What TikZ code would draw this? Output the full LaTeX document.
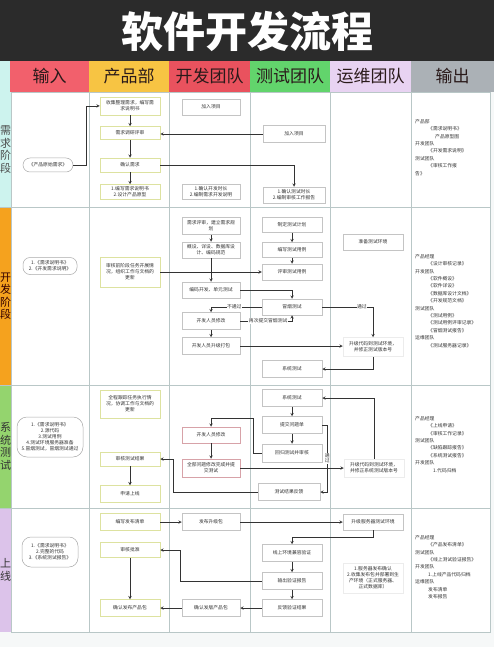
\documentclass[tikz,border=0pt]{standalone}
\usepackage{fontspec}
\setmainfont{Noto Sans CJK SC}
\usetikzlibrary{arrows,calc}

\definecolor{titlebg}{HTML}{2B2B2B}
\definecolor{pagebg}{HTML}{F6F8F8}
\definecolor{hIn}{HTML}{F2606C}
\definecolor{hProd}{HTML}{F7C443}
\definecolor{hDev}{HTML}{E9525E}
\definecolor{hTest}{HTML}{62D46C}
\definecolor{hOps}{HTML}{E8D3F2}
\definecolor{hOut}{HTML}{ABB1B6}
\definecolor{stripcyan}{HTML}{CDF3EE}
\definecolor{striporange}{HTML}{F5A21E}
\definecolor{stripgreen}{HTML}{94D46E}
\definecolor{striplav}{HTML}{DCC3EA}
\definecolor{gridline}{HTML}{B9C7C7}
\definecolor{boxgray}{HTML}{C4C4C4}
\definecolor{ingray}{HTML}{AAAAAA}
\definecolor{prodline}{HTML}{DDE2A0}
\definecolor{pinkline}{HTML}{D7A2A8}
\definecolor{boxtext}{HTML}{333333}
\definecolor{headtext}{HTML}{2A1A1A}
\definecolor{linedark}{HTML}{333333}

\begin{document}
\begin{tikzpicture}[x=1pt, y=-1pt,
	box/.style={rectangle, draw=boxgray, fill=white, line width=0.5pt, minimum width=58, minimum height=16, inner sep=1pt, align=center, text=boxtext, font=\fontsize{4.8}{6}\selectfont},
	pbox/.style={box, draw=prodline, minimum width=60},
	dbox/.style={box, draw=pinkline},
	inbox/.style={box, rounded corners=7pt, draw=ingray},
	head/.style={rectangle, minimum height=31, inner sep=0pt, font=\fontsize{17}{17}\selectfont, text=headtext},
	strip/.style={rectangle, minimum width=11, inner sep=0pt, align=center, font=\fontsize{11}{12.5}\selectfont},
	outtext/.style={align=left, inner sep=0pt, anchor=north west, text=boxtext, font=\fontsize{4.8}{7.4}\selectfont},
	arr/.style={-stealth, line width=0.5pt, draw=linedark},
	lbl/.style={fill=white, inner sep=0.5pt, text=boxtext, font=\fontsize{4.8}{6}\selectfont},
	grid/.style={draw=gridline, line width=0.6pt}
]
	\useasboundingbox (0,0) rectangle (494,647);
	\fill[pagebg] (0,0) rectangle (494,647);
	\fill[titlebg] (0,0) rectangle (494,61);
	\fill[stripcyan] (0,61) rectangle (10,92);
	\node[font=\fontsize{42}{42}\selectfont\bfseries, text=white] (title) at (247,31) {软件开发流程};

	% header row
	\node[head, fill=hIn, minimum width=79] (hIn) at (49.5,76.5) {输入};
	\node[head, fill=hProd, minimum width=80] (hProd) at (129,76.5) {产品部};
	\node[head, fill=hDev, minimum width=81] (hDev) at (209.5,76.5) {开发团队};
	\node[head, fill=hTest, minimum width=80] (hTest) at (290,76.5) {测试团队};
	\node[head, fill=hOps, minimum width=81] (hOps) at (370.5,76.5) {运维团队};
	\node[head, fill=hOut, minimum width=83] (hOut) at (452.5,76.5) {输出};

	% body and phases
	\fill[white] (11,92) rectangle (490,632);
	\node[strip, fill=stripcyan, minimum height=115, text=black!70] (pReq) at (5.5,149.5) {需\\求\\阶\\段};
	\node[strip, fill=striporange, minimum height=178, text=black!80!red] (pDev) at (5.5,296) {开\\发\\阶\\段};
	\node[strip, fill=stripgreen, minimum height=123, text=black!80] (pSys) at (5.5,446.5) {系\\统\\测\\试};
	\node[strip, fill=striplav, minimum height=124, text=black!80] (pRel) at (5.5,570) {上\\线};
	\draw[grid] (11,92) rectangle (490,632);
	\foreach \x in {89,169,250,330,411} \draw[grid] (\x,92) -- (\x,632);
	\foreach \y in {207,385,508} \draw[grid] (0,\y) -- (490,\y);

	% 需求阶段
	\node[inbox, minimum width=50, minimum height=14] (rIn) at (48,165) {《产品原始需求》};
	\node[pbox, minimum height=18] (rP1) at (130,106) {收集整理需求，编写需\\求说明书};
	\node[pbox, minimum height=13] (rP2) at (130,133) {需求调研评审};
	\node[pbox, minimum height=14] (rP3) at (130,165) {确认需求};
	\node[pbox, minimum height=15] (rP4) at (130,192) {1.编写需求说明书\\2.设计产品原型};
	\node[box] (rD1) at (211,107) {加入项目};
	\node[box, minimum height=15] (rD2) at (211,192) {1.确认开发时长\\2.编制需求开发说明};
	\node[box, minimum width=62, minimum height=17] (rT1) at (294,134) {加入项目};
	\node[box, minimum width=62] (rT2) at (294,195) {1.确认测试时长\\2.编制审核工作报告};
	\node[outtext] (rOut) at (415,119) {产品部\\\hspace*{13pt}《需求说明书》\\\hspace*{20pt}产品原型图\\开发团队\\\hspace*{13pt}《开发需求说明》\\测试团队\\\hspace*{13pt}《审核工作报\\告》};

	\draw[arr] (rIn.east) -- ++(13,0) |- (rP1.west);
	\draw[arr] (rP1) -- (rP2);
	\draw[arr] (rT1.west) -- (rT1.west -| rP2.east);
	\draw[arr] (rP2) -- (rP3);
	\draw[arr] (rP3.east) -| (rT2.north);
	\draw[arr] (rP3) -- (rP4);

	% 开发阶段
	\node[inbox, minimum width=54, minimum height=17] (dIn) at (50,266) {1.《需求说明书》\\2.《开发需求说明》};
	\node[pbox, minimum height=30] (dP1) at (130,272) {审核前阶段任务开展情\\况，组织工作与文档的\\更新};
	\node[box, minimum height=17] (dD1) at (211,226) {需求评审，建立需求规\\划};
	\node[box] (dD2) at (211,250) {概设、详设、数据库设\\计、编码规范};
	\node[box] (dD3) at (211,290) {编码开发、单元测试};
	\node[box, minimum height=17] (dD4) at (211,321) {开发人员修改};
	\node[box, minimum height=17] (dD5) at (211,346) {开发人员升级打包};
	\node[box, minimum width=60, minimum height=15] (dT1) at (292,225) {制定测试计划};
	\node[box, minimum width=60, minimum height=15] (dT2) at (292,250) {编写测试用例};
	\node[box, minimum width=60] (dT3) at (292,272) {评审测试用例};
	\node[box, minimum width=60] (dT4) at (292,307) {冒烟测试};
	\node[box, minimum width=60, minimum height=17] (dT5) at (292,369) {系统测试};
	\node[box, minimum width=60] (dO1) at (373,242) {准备测试环境};
	\node[box, minimum width=60, minimum height=19, draw=gray!15] (dO2) at (373,347) {升级代码到测试环境，\\并修正测试版本号};
	\node[outtext] (dOut) at (415,254) {产品经理\\\hspace*{13pt}《设计审核记录》\\开发团队\\\hspace*{13pt}《软件概设》\\\hspace*{13pt}《软件详设》\\\hspace*{13pt}《数据库设计文档》\\\hspace*{13pt}《开发规范文档》\\测试团队\\\hspace*{13pt}《测试用例》\\\hspace*{13pt}《测试用例评审记录》\\\hspace*{13pt}《冒烟测试报告》\\运维团队\\\hspace*{13pt}《测试服务器记录》};

	\draw[arr] (dD1) -- (dD2);
	\draw[arr] (dD2) -- (dD3);
	\draw[arr] (dP1) -- (dT3);
	\draw[arr] (dT1) -- (dT2);
	\draw[arr] (dT2) -- (dT3);
	\draw[arr] (dD3.east) -| (dT4.north);
	\draw[arr] (dT4.west) -| node[lbl, pos=0.27] {不通过} (dD4.north);
	\draw[arr] (dD4.east) -| node[lbl, pos=0.27] {再次提交冒烟测试} (dT4.south);
	\draw[arr] (dT4.east) -| node[lbl, pos=0.39] {通过} (dO2.north);
	\draw[arr] (dD4) -- (dD5);
	\draw[arr] (dD5.east) -- (dD5.east -| dO2.west);
	\draw[arr] (dO2.south) |- (dT5.east);

	% 系统测试
	\node[inbox, minimum width=66, minimum height=40, rounded corners=10pt] (sIn) at (50,437) {1.《需求说明书》\\2.源代码\\3.测试用例\\4.测试环境服务器准备\\5.冒烟测试，冒烟测试通过};
	\node[pbox, minimum height=28] (sP1) at (130,404) {全程跟踪任务执行情\\况，协调工作与文档的\\更新};
	\node[pbox, minimum height=14] (sP2) at (130,459) {审核测试结果};
	\node[pbox, minimum height=17] (sP3) at (130,494) {申请上线};
	\node[dbox] (sD1) at (211,435) {开发人员修改};
	\node[dbox, minimum height=18] (sD2) at (211,468) {全部问题修改完成并提\\交测试};
	\node[box, minimum width=60, minimum height=17] (sT1) at (292,398) {系统测试};
	\node[box, minimum width=60, minimum height=17] (sT2) at (292,425) {提交问题单};
	\node[box, minimum width=60, minimum height=18] (sT3) at (292,453) {回归测试并审核};
	\node[box, minimum width=62, minimum height=17] (sT4) at (289,492) {测试结果反馈};
	\node[box, minimum width=60, minimum height=18, draw=gray!15] (sO1) at (374,468) {升级代码到测试环境，\\并修正系统测试版本号};
	\node[outtext] (sOut) at (415,416) {产品经理\\\hspace*{13pt}《上线申请》\\\hspace*{13pt}《审核工作记录》\\测试团队\\\hspace*{13pt}《缺陷跟踪报告》\\\hspace*{13pt}《系统测试报告》\\开发团队\\\hspace*{18pt}1.代码归档};
	\coordinate (sBend) at (253,418);
	\coordinate (sBack) at (173,459);

	\draw[arr] (sP2) -- (sP3);
	\draw[arr] (sD1) -- (sD2);
	\draw[arr] (sT1) -- (sT2);
	\draw[arr] (sT2) -- (sT3);
	\draw[arr] (sT3.west) -| (sBend) -| (sD1.north);
	\draw[arr] (sT2.east) -- ++(5,0) |- node[lbl, pos=0.25, align=center, font=\fontsize{4.8}{5.2}\selectfont] {通\\过} (sT4.east);
	\draw[arr] (sD2.east) -- (sD2.east -| sO1.west);
	\draw[arr] (sO1.north) |- (sT1.east);
	\draw[arr] (sT4.west) -| (sBack) -- (sP2.east);

	% 上线
	\node[inbox, minimum width=56, minimum height=30, rounded corners=9pt] (lIn) at (50,552) {1.《需求说明书》\\2.完整的代码\\3.《系统测试报告》};
	\node[pbox, minimum height=17] (lP1) at (130,522) {编写发布清单};
	\node[pbox, minimum height=15] (lP2) at (130,550) {审核批准};
	\node[pbox, minimum height=17] (lP3) at (130,608) {确认发布产品包};
	\node[box, minimum height=17] (lD1) at (211,522) {发布升级包};
	\node[box, minimum height=17] (lD2) at (211,608) {确认发版产品包};
	\node[box, minimum width=60, minimum height=17] (lT1) at (292,553) {线上环境兼容验证};
	\node[box, minimum width=60, minimum height=17] (lT2) at (292,581) {输出验证报告};
	\node[box, minimum width=60, minimum height=17] (lT3) at (292,608) {反馈验证结果};
	\node[box, minimum width=60] (lO1) at (373,522) {升级服务器测试环境};
	\node[box, minimum width=60, minimum height=30, draw=gray!15] (lO2) at (373,578) {1.服务器发布确认\\2.收集发布包并部署到生\\产环境（正式服务器、\\正式数据库）};
	\node[outtext] (lOut) at (415,535) {产品经理\\\hspace*{13pt}《产品发布清单》\\测试团队\\\hspace*{13pt}《线上测试验证报告》\\开发团队\\\hspace*{13pt}1.上线产品代码归档\\运维团队\\\hspace*{13pt}发布清单\\\hspace*{13pt}发布报告};
	\coordinate (lBack) at (180,550);

	\draw[arr] (lP1) -- (lD1);
	\draw[arr] (lD1) -- (lO1);
	\draw[arr] (lO1.south) -- ++(0,7) -| (lT1.north);
	\draw[arr] (lT1) -- (lT2);
	\draw[arr] (lT2) -- (lT3);
	\draw[arr] (lT2.west) -| (lBack) -- (lP2.east);
	\draw[arr] (lP2) -- (lP3);
	\draw[arr] (lT3) -- (lD2);
	\draw[arr] (lD2) -- (lP3);

\end{tikzpicture}
\end{document}
